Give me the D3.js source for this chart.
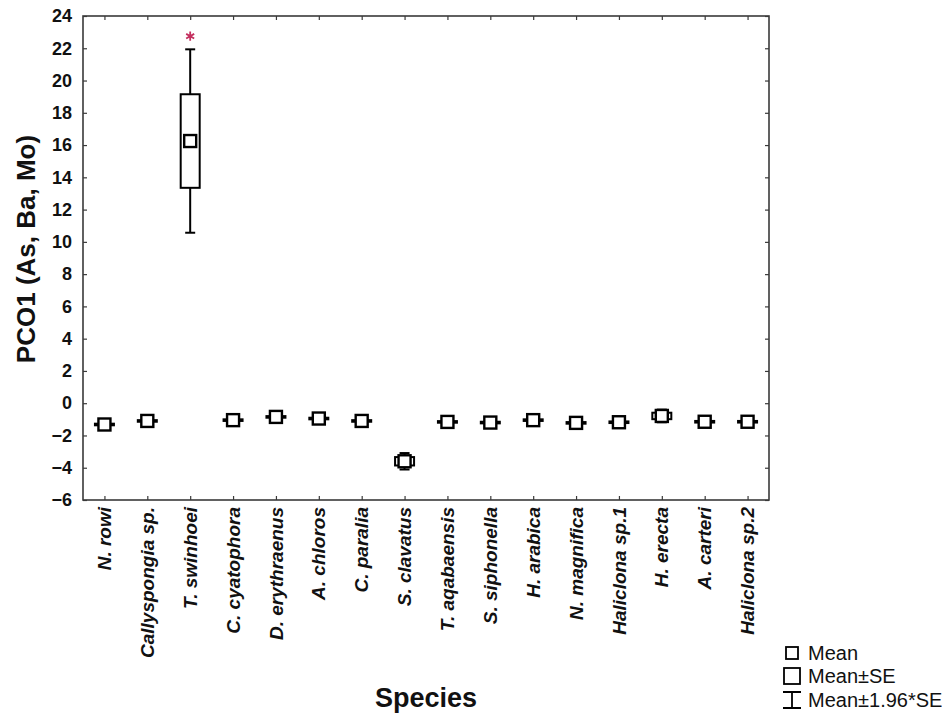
<!DOCTYPE html>
<html>
<head>
<meta charset="utf-8">
<script src="https://cdn.jsdelivr.net/npm/d3@7"></script>
<style>
  body { margin: 0; background: #fff; }
  svg { display: block; font-family: "Liberation Sans", Arial, sans-serif; }
</style>
</head>
<body>
<div id="chart"></div>
<script>
// values
const species = ["N. rowi", "Callyspongia sp.", "T. swinhoei", "C. cyatophora", "D. erythraenus",
  "A. chloros", "C. paralia", "S. clavatus", "T. aqabaensis", "S. siphonella", "H. arabica",
  "N. magnifica", "Haliclona sp.1", "H. erecta", "A. carteri", "Haliclona sp.2"];
const means = [-1.32, -1.1, 16.25, -1.05, -0.85, -0.95, -1.1, -3.6, -1.16, -1.2, -1.05, -1.22, -1.18, -0.79, -1.15, -1.15];
const se = [0.05, 0.05, 2.9, 0.05, 0.05, 0.05, 0.05, 0.26, 0.05, 0.05, 0.05, 0.05, 0.05, 0.2, 0.05, 0.05];
const outliers = [{ species: "T. swinhoei", value: 22.75 }];
const yTicks = d3.range(-6, 25, 2);
const legendItems = ["Mean", "Mean\u00b1SE", "Mean\u00b11.96*SE"];

const width = 942, height = 714;
const margin = { top: 16, right: 173, bottom: 214, left: 83 };
const iw = width - margin.left - margin.right;
const ih = height - margin.top - margin.bottom;

const svg = d3.select('#chart').append('svg')
  .attr('width', width)
  .attr('height', height);

const g = svg.append('g').attr('transform', `translate(${margin.left},${margin.top})`);

const x = d3.scalePoint().domain(species).range([0, iw]).padding(0.5);
const y = d3.scaleLinear().domain([-6, 24]).range([ih, 0]);

const frameColor = '#3a3a3a';

// axes with inside ticks
const yAxis = g.append('g').call(d3.axisLeft(y).tickValues(yTicks).tickSize(-4).tickPadding(11));
yAxis.selectAll('text').style('font-size', '18px').style('font-weight', 'bold').attr('fill', '#111');

const yAxisR = g.append('g').attr('transform', `translate(${iw},0)`)
  .call(d3.axisRight(y).tickValues(yTicks).tickSize(-4).tickFormat(''));

const xAxis = g.append('g').attr('transform', `translate(0,${ih})`)
  .call(d3.axisBottom(x).tickSize(-4).tickFormat(''));

const xAxisT = g.append('g').call(d3.axisTop(x).tickSize(-4).tickFormat(''));

[yAxis, yAxisR, xAxis, xAxisT].forEach(a => {
  a.select('.domain').remove();
  a.selectAll('.tick line').attr('stroke', frameColor).attr('stroke-width', 1.2);
});

g.append('rect')
  .attr('width', iw).attr('height', ih)
  .attr('fill', 'none').attr('stroke', frameColor).attr('stroke-width', 1.6);

// category labels, rotated
g.selectAll('.cat')
  .data(species)
  .enter().append('text')
  .attr('class', 'cat')
  .attr('transform', d => `translate(${x(d)},${ih + 7}) rotate(-90)`)
  .attr('dy', '0.35em')
  .attr('text-anchor', 'end')
  .style('font-size', '19px')
  .style('font-weight', 'bold')
  .style('font-style', 'italic')
  .attr('fill', '#111')
  .text(d => d);

// box plots: box = mean±SE, whisker = mean±1.96*SE, small square = mean
const boxW = 19, capW = 10, meanW = 12;
const items = species.map((s, i) => ({ s, m: means[i], e: se[i] }));

const box = g.selectAll('.box').data(items).enter().append('g').attr('class', 'box');

box.append('line')
  .attr('x1', d => x(d.s)).attr('x2', d => x(d.s))
  .attr('y1', d => y(d.m + 1.96 * d.e)).attr('y2', d => y(d.m - 1.96 * d.e))
  .attr('stroke', '#000').attr('stroke-width', 2);

box.selectAll('.cap')
  .data(d => [d.m + 1.96 * d.e, d.m - 1.96 * d.e].map(v => ({ s: d.s, v })))
  .enter().append('line')
  .attr('x1', d => x(d.s) - capW / 2).attr('x2', d => x(d.s) + capW / 2)
  .attr('y1', d => y(d.v)).attr('y2', d => y(d.v))
  .attr('stroke', '#000').attr('stroke-width', 2);

box.append('rect')
  .attr('x', d => x(d.s) - boxW / 2)
  .attr('y', d => y(d.m + d.e))
  .attr('width', boxW)
  .attr('height', d => Math.max(1, y(d.m - d.e) - y(d.m + d.e)))
  .attr('fill', '#fff').attr('stroke', '#000').attr('stroke-width', 2);

box.append('rect')
  .attr('x', d => x(d.s) - meanW / 2)
  .attr('y', d => y(d.m) - meanW / 2)
  .attr('width', meanW).attr('height', meanW)
  .attr('fill', '#fff').attr('stroke', '#000').attr('stroke-width', 2.4);

// outliers
g.selectAll('.out').data(outliers).enter().append('path')
  .attr('transform', d => `translate(${x(d.species)},${y(d.value)})`)
  .attr('d', d3.symbol(d3.symbolAsterisk, 60))
  .attr('fill', 'none').attr('stroke', '#c4305f').attr('stroke-width', 1.8);

// axis titles
svg.append('text')
  .attr('transform', `translate(35,${margin.top + ih / 2 - 9}) rotate(-90)`)
  .attr('text-anchor', 'middle')
  .style('font-size', '26px').style('font-weight', 'bold')
  .attr('fill', '#111')
  .text('PCO1 (As, Ba, Mo)');

svg.append('text')
  .attr('x', margin.left + iw / 2).attr('y', 707)
  .attr('text-anchor', 'middle')
  .style('font-size', '27px').style('font-weight', 'bold')
  .attr('fill', '#111')
  .text('Species');

// legend
const lg = svg.append('g').attr('transform', 'translate(792,0)');
const rowY = [653, 676, 700];

lg.append('rect').attr('x', -6).attr('y', rowY[0] - 6).attr('width', 12).attr('height', 12)
  .attr('fill', 'none').attr('stroke', '#000').attr('stroke-width', 1.8);
lg.append('rect').attr('x', -8).attr('y', rowY[1] - 8).attr('width', 16).attr('height', 16)
  .attr('fill', 'none').attr('stroke', '#000').attr('stroke-width', 1.8);
lg.append('path')
  .attr('d', `M-9,${rowY[2] - 8}H9M0,${rowY[2] - 8}V${rowY[2] + 8}M-9,${rowY[2] + 8}H9`)
  .attr('fill', 'none').attr('stroke', '#000').attr('stroke-width', 1.8);

lg.selectAll('.lt').data(legendItems).enter().append('text')
  .attr('x', 16).attr('y', (d, i) => rowY[i])
  .attr('dy', '0.36em')
  .style('font-size', '20px')
  .attr('fill', '#111')
  .text(d => d);
</script>
</body>
</html>
